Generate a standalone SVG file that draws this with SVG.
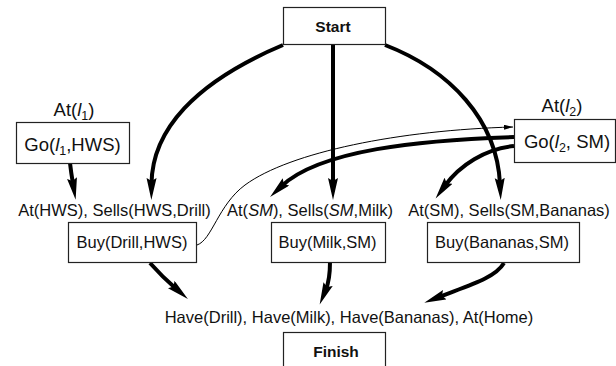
<svg xmlns="http://www.w3.org/2000/svg" width="616" height="366" viewBox="0 0 616 366">
  <style>
    .box { fill: #fff; stroke: #222; stroke-width: 1.2; }
    .lbl { font-family: "Liberation Sans", Arial, Helvetica, sans-serif; font-size: 16.5px; fill: #111; text-anchor: middle; }
    .big { font-size: 18.5px; }
    .bold { font-weight: bold; font-size: 15.5px; }
    .it { font-style: italic; }
    .thick { fill: none; stroke: #000; stroke-width: 4; marker-end: url(#head); }
    .thin { fill: none; stroke: #000; stroke-width: 1; marker-end: url(#thinhead); }
  </style>
  <defs>
    <marker id="head" markerUnits="userSpaceOnUse" markerWidth="24" markerHeight="11" refX="6" refY="5" orient="auto">
      <path d="M0,0 L22,5 L0,10 L3,5 Z" fill="#000"/>
    </marker>
    <marker id="thinhead" markerUnits="userSpaceOnUse" markerWidth="10" markerHeight="6" refX="9" refY="2.5" orient="auto">
      <path d="M0,0 L9,2.5 L0,5 Z" fill="#000"/>
    </marker>
  </defs>

  <!-- causal links between steps -->
  <g id="connectors">
    <path class="thick" d="M283,45 C195,82 152,130 151.5,184"/>
    <path class="thick" d="M70,163 C71,172 72,178 73,184"/>
    <path class="thick" d="M333,44 L333,184"/>
    <path class="thick" d="M385,45 C450,70 497,120 500,184"/>
    <path class="thick" d="M514,137 C420,140 320,150 281.7,186"/>
    <path class="thick" d="M514,146 C485,149 460,165 445,185.6"/>
    <path class="thin" d="M197,245 C212,240 218,205 245,185 C290,152 400,130 513,127"/>
    <path class="thick" d="M150,263 C158,272 166,280 175.8,288.5"/>
    <path class="thick" d="M330,262 C330,272 329,282 325.8,289.7"/>
    <path class="thick" d="M504,263 C495,278 470,285 439.2,296.9"/>
  </g>

  <g id="start">
    <rect class="box" x="283.5" y="7.5" width="102" height="37"/>
    <text class="lbl bold" x="333" y="32">Start</text>
  </g>

  <g id="go-hws">
    <text class="lbl big" x="74" y="116">At(<tspan class="it">l</tspan><tspan font-size="12.5" dy="4">1</tspan><tspan dy="-4">)</tspan></text>
    <rect class="box" x="16.5" y="122.5" width="113" height="41"/>
    <text class="lbl big" x="72.5" y="151">Go(<tspan class="it">l</tspan><tspan font-size="12.5" dy="4">1</tspan><tspan dy="-4">,HWS)</tspan></text>
  </g>

  <g id="go-sm">
    <text class="lbl big" x="562" y="112">At(<tspan class="it">l</tspan><tspan font-size="12.5" dy="4">2</tspan><tspan dy="-4">)</tspan></text>
    <rect class="box" x="514.5" y="119.5" width="101" height="43"/>
    <text class="lbl big" x="567" y="148">Go(<tspan class="it">l</tspan><tspan font-size="12.5" dy="4">2</tspan><tspan dy="-4">, SM)</tspan></text>
  </g>

  <g id="buy-drill">
    <text class="lbl" x="114.5" y="216">At(HWS), Sells(HWS,Drill)</text>
    <rect class="box" x="68.5" y="222.5" width="128" height="40"/>
    <text class="lbl" x="132" y="248">Buy(Drill,HWS)</text>
  </g>

  <g id="buy-milk">
    <text class="lbl" x="310" y="216">At(<tspan class="it">SM</tspan>), Sells(<tspan class="it">SM</tspan>,Milk)</text>
    <rect class="box" x="271.5" y="222.5" width="114" height="40"/>
    <text class="lbl" x="327.5" y="248">Buy(Milk,SM)</text>
  </g>

  <g id="buy-bananas">
    <text class="lbl" x="509" y="216">At(SM), Sells(SM,Bananas)</text>
    <rect class="box" x="427.5" y="222.5" width="152" height="40"/>
    <text class="lbl" x="502" y="248">Buy(Bananas,SM)</text>
  </g>

  <g id="finish">
    <text class="lbl" x="349" y="323">Have(Drill), Have(Milk), Have(Bananas), At(Home)</text>
    <rect class="box" x="283.5" y="332.5" width="102" height="40"/>
    <text class="lbl bold" x="336" y="357" font-size="16">Finish</text>
  </g>
</svg>
